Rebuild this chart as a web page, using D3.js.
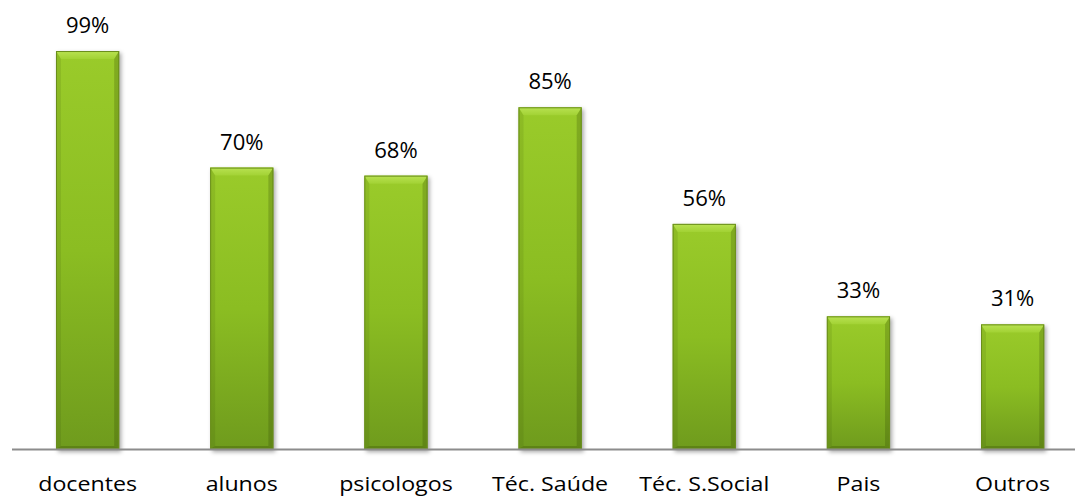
<!DOCTYPE html>
<html>
<head>
<meta charset="utf-8">
<script src="https://cdn.jsdelivr.net/npm/d3@7"></script>
<style>
  html, body { margin: 0; padding: 0; background: #fff; }
  svg { display: block; }
  text { font-family: "Open Sans", "Noto Sans", sans-serif; font-weight: 400; fill: #000; }
</style>
</head>
<body>
<svg id="chart" width="1075" height="496"></svg>
<script>
// Share of respondents by group
const categories = ["docentes", "alunos", "psicologos", "Téc. Saúde", "Téc. S.Social", "Pais", "Outros"];
const values = [99, 70, 68, 85, 56, 33, 31];
const valueLabels = ["99%", "70%", "68%", "85%", "56%", "33%", "31%"];

const width = 1075, height = 496;
const baseY = 449;

const svg = d3.select("#chart");

const x = d3.scaleBand()
  .domain(categories)
  .range([10.5, 1089.7])
  .paddingInner(0.59)
  .paddingOuter(0.295);

const y = d3.scaleLinear()
  .domain([0, 100])
  .range([baseY, 47]);

const defs = svg.append("defs");

const face = defs.append("linearGradient")
  .attr("id", "face").attr("x1", 0).attr("y1", 0).attr("x2", 0).attr("y2", 1);
face.append("stop").attr("offset", "0%").attr("stop-color", "#9acb2a");
face.append("stop").attr("offset", "50%").attr("stop-color", "#8bbd22");
face.append("stop").attr("offset", "100%").attr("stop-color", "#6f9b1d");

const topBevel = defs.append("linearGradient")
  .attr("id", "topBevel").attr("x1", 0).attr("y1", 0).attr("x2", 0).attr("y2", 1);
topBevel.append("stop").attr("offset", "0%").attr("stop-color", "#b9e252");
topBevel.append("stop").attr("offset", "100%").attr("stop-color", "#a2d234");

const shadow = defs.append("filter").attr("id", "shadow")
  .attr("x", "-20%").attr("y", "-5%").attr("width", "140%").attr("height", "115%");
shadow.append("feGaussianBlur").attr("stdDeviation", 2.2);

const bars = svg.append("g").selectAll("g.bar")
  .data(categories.map((c, i) => ({ c, v: values[i], label: valueLabels[i] })))
  .join("g")
  .attr("class", "bar");

// soft drop shadow
bars.append("rect")
  .attr("x", d => x(d.c) + 2)
  .attr("y", d => y(d.v) + 2)
  .attr("width", x.bandwidth())
  .attr("height", d => baseY - y(d.v) + 1)
  .attr("fill", "rgba(0,0,0,0.35)")
  .attr("filter", "url(#shadow)");

// main face
bars.append("rect")
  .attr("x", d => x(d.c))
  .attr("y", d => y(d.v))
  .attr("width", x.bandwidth())
  .attr("height", d => baseY - y(d.v))
  .attr("fill", "url(#face)");

const bev = 8, side = 5;

// top bevel
bars.append("path")
  .attr("d", d => {
    const x0 = x(d.c), x1 = x0 + x.bandwidth(), y0 = y(d.v);
    return `M${x0},${y0}L${x1},${y0}L${x1 - side},${y0 + bev}L${x0 + side},${y0 + bev}Z`;
  })
  .attr("fill", "url(#topBevel)");

// left bevel
bars.append("path")
  .attr("d", d => {
    const x0 = x(d.c), y0 = y(d.v);
    return `M${x0},${y0}L${x0 + side},${y0 + bev}L${x0 + side},${baseY - 3}L${x0},${baseY}Z`;
  })
  .attr("fill", "rgba(40,60,0,0.10)");

// right bevel
bars.append("path")
  .attr("d", d => {
    const x1 = x(d.c) + x.bandwidth(), y0 = y(d.v);
    return `M${x1},${y0}L${x1 - side},${y0 + bev}L${x1 - side},${baseY - 3}L${x1},${baseY}Z`;
  })
  .attr("fill", "rgba(40,60,0,0.22)");

// bottom bevel
bars.append("path")
  .attr("d", d => {
    const x0 = x(d.c), x1 = x0 + x.bandwidth();
    return `M${x0},${baseY}L${x0 + side},${baseY - 3}L${x1 - side},${baseY - 3}L${x1},${baseY}Z`;
  })
  .attr("fill", "rgba(40,60,0,0.25)");

// outline
bars.append("rect")
  .attr("x", d => x(d.c) + 0.5)
  .attr("y", d => y(d.v) + 0.5)
  .attr("width", x.bandwidth() - 1)
  .attr("height", d => baseY - y(d.v) - 1)
  .attr("fill", "none")
  .attr("stroke", "#6a8e1c")
  .attr("stroke-width", 1);

// value labels
bars.append("text")
  .attr("transform", d => `translate(${x(d.c) + x.bandwidth() / 2},${y(d.v) - 18}) scale(1.05,1)`)
  .attr("text-anchor", "middle")
  .attr("font-size", 21)
  .text(d => d.label);

// category axis
const axis = svg.append("g").attr("transform", `translate(0,${baseY})`);
axis.append("line")
  .attr("x1", 12).attr("x2", width)
  .attr("y1", 0.5).attr("y2", 0.5)
  .attr("stroke", "#8c8c8c")
  .attr("stroke-width", 2);

axis.selectAll("text.cat")
  .data(categories)
  .join("text")
  .attr("class", "cat")
  .attr("transform", d => `translate(${x(d) + x.bandwidth() / 2},42) scale(1.16,1)`)
  .attr("text-anchor", "middle")
  .attr("font-size", 20)
  .text(d => d);
</script>
</body>
</html>
